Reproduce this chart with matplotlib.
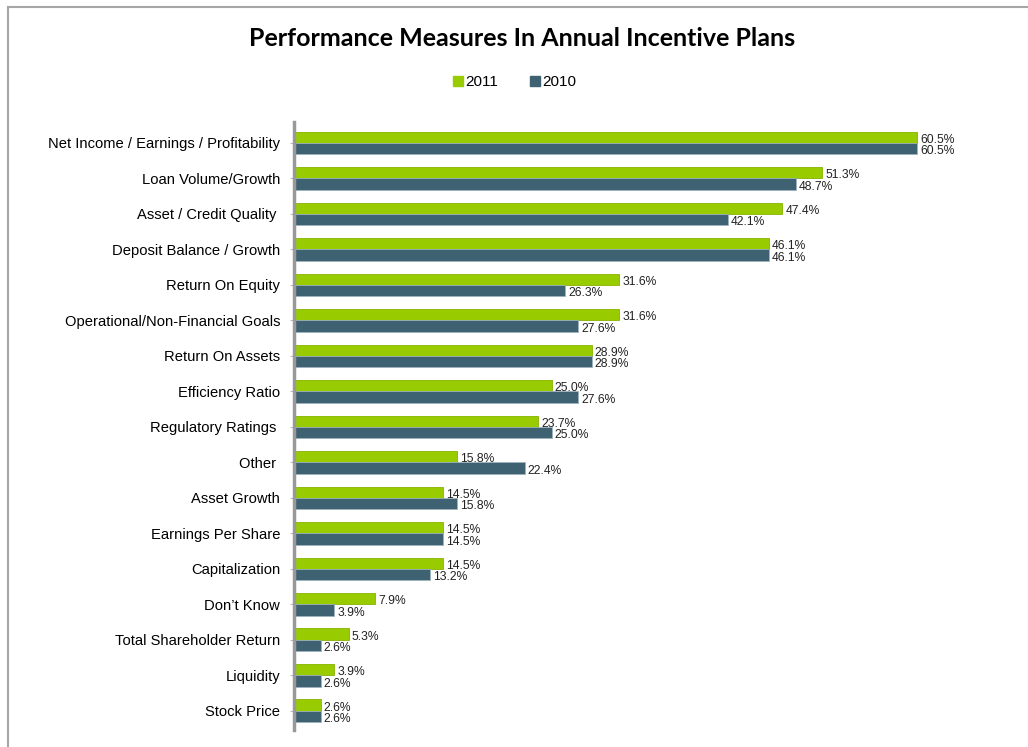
import matplotlib.pyplot as plt
from matplotlib.lines import Line2D
import numpy as np

categories = [
    "Net Income / Earnings / Profitability",
    "Loan Volume/Growth",
    "Asset / Credit Quality ",
    "Deposit Balance / Growth",
    "Return On Equity",
    "Operational/Non-Financial Goals",
    "Return On Assets",
    "Efficiency Ratio",
    "Regulatory Ratings ",
    "Other ",
    "Asset Growth",
    "Earnings Per Share",
    "Capitalization",
    "Don\u2019t Know",
    "Total Shareholder Return",
    "Liquidity",
    "Stock Price",
]
vals_2011 = [60.5, 51.3, 47.4, 46.1, 31.6, 31.6, 28.9, 25.0, 23.7, 15.8,
             14.5, 14.5, 14.5, 7.9, 5.3, 3.9, 2.6]
vals_2010 = [60.5, 48.7, 42.1, 46.1, 26.3, 27.6, 28.9, 27.6, 25.0, 22.4,
             15.8, 14.5, 13.2, 3.9, 2.6, 2.6, 2.6]

green = "#99CC00"
dark = "#3F6272"

plt.rcParams['font.family'] = ['Liberation Sans', 'DejaVu Sans']

W, H = 1028, 747
fig = plt.figure(figsize=(W / 100, H / 100), dpi=100)
ax = fig.add_axes([294 / W, 1 - 730 / H, (1015 - 294) / W, (730 - 122) / H])

y = np.arange(len(categories))
h = 0.32
ax.barh(y - h / 2, vals_2011, height=h, color=green, edgecolor="#86B300", linewidth=0.6)
ax.barh(y + h / 2, vals_2010, height=h, color=dark, edgecolor="#9DB3BE", linewidth=0.6)

for yi, v in zip(y, vals_2011):
    ax.text(v + 0.3, yi - h / 2 + 0.07, f"{v:.1f}%", va="center", ha="left",
            fontsize=8.7, color="#222222")
for yi, v in zip(y, vals_2010):
    ax.text(v + 0.3, yi + h / 2 + 0.07, f"{v:.1f}%", va="center", ha="left",
            fontsize=8.7, color="#222222")

ax.set_xlim(0, 70)
ax.set_ylim(len(categories) - 0.46, -0.59)
ax.set_yticks(y)
ax.set_yticklabels(categories, fontsize=10.6)
ax.tick_params(axis="y", length=3, color="#BBBBBB", pad=7)
ax.set_xticks([])
for s in ["top", "right", "bottom"]:
    ax.spines[s].set_visible(False)
ax.spines["left"].set_color("#999999")
ax.spines["left"].set_linewidth(2.5)

fig.text(522 / W, 1 - 39 / H, "Performance Measures In Annual Incentive Plans",
         ha="center", va="center", fontsize=18, fontweight="bold", family=['Lato', 'DejaVu Sans'])

handles = [Line2D([], [], marker="s", linestyle="none", color=green, markersize=7),
           Line2D([], [], marker="s", linestyle="none", color=dark, markersize=7)]
fig.legend(handles, ["2011", "2010"], loc="center", bbox_to_anchor=(514 / W, 1 - 82 / H),
           ncol=2, frameon=False, fontsize=11, handletextpad=0.1, columnspacing=2.0,
           handlelength=0.8)

# chart area border
fig.add_artist(Line2D([8 / W, 8 / W], [0, 1 - 7 / H], color="#A6A6A6", linewidth=1.5,
                      transform=fig.transFigure))
fig.add_artist(Line2D([8 / W, 1], [1 - 7 / H, 1 - 7 / H], color="#A6A6A6", linewidth=1.5,
                      transform=fig.transFigure))

fig.savefig("out.png", dpi=100)
